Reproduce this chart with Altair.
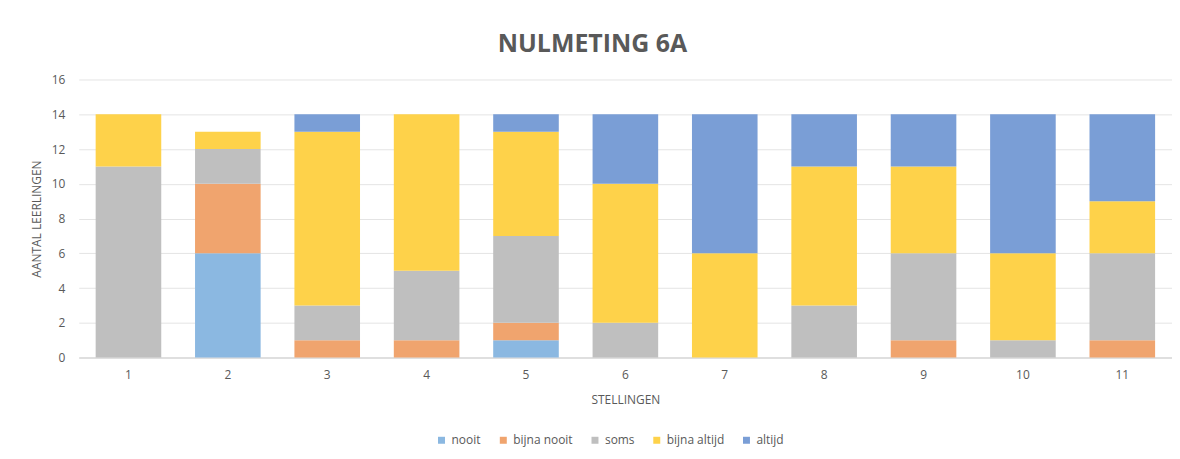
import altair as alt
import pandas as pd

stellingen = ["1", "2", "3", "4", "5", "6", "7", "8", "9", "10", "11"]
series_names = ["nooit", "bijna nooit", "soms", "bijna altijd", "altijd"]
nooit        = [0, 6, 0, 0, 1, 0, 0, 0, 0, 0, 0]
bijna_nooit  = [0, 4, 1, 1, 1, 0, 0, 0, 1, 0, 1]
soms         = [11, 2, 2, 4, 5, 2, 0, 3, 5, 1, 5]
bijna_altijd = [3, 1, 10, 9, 6, 8, 6, 8, 5, 5, 3]
altijd       = [0, 0, 1, 0, 1, 4, 8, 3, 3, 8, 5]
colors = ["#8BB8E1", "#F0A46E", "#BFBFBF", "#FED24A", "#7A9ED6"]

rows = []
for si, (name, vals) in enumerate(zip(series_names, [nooit, bijna_nooit, soms, bijna_altijd, altijd])):
    for cat, v in zip(stellingen, vals):
        rows.append({"stelling": cat, "reeks": name, "aantal": v, "volgorde": si})
df = pd.DataFrame(rows)

FONT = "Open Sans"
GRAY = "#595959"

chart = alt.Chart(df).mark_bar().encode(
    x=alt.X("stelling:N", sort=stellingen,
            scale=alt.Scale(paddingInner=0.34, paddingOuter=0.17),
            axis=alt.Axis(title="STELLINGEN", labelAngle=0, ticks=False,
                          domainColor="#D9D9D9", domainWidth=1.5,
                          labelPadding=12, titlePadding=14)),
    y=alt.Y("aantal:Q", stack="zero",
            scale=alt.Scale(domain=[0, 16]),
            axis=alt.Axis(title="AANTAL LEERLINGEN", values=list(range(0, 17, 2)),
                          domain=False, ticks=False, gridColor="#E4E4E4",
                          labelPadding=14, titlePadding=8)),
    color=alt.Color("reeks:N",
                    scale=alt.Scale(domain=series_names, range=colors),
                    legend=alt.Legend(title=None, orient="none", direction="horizontal",
                                      legendX=358, legendY=356, symbolType="square",
                                      symbolSize=49, symbolStrokeWidth=0,
                                      labelFontSize=12, labelColor=GRAY, labelFont=FONT,
                                      columnPadding=16, labelOffset=4)),
    order=alt.Order("volgorde:Q", sort="ascending"),
).properties(
    width=1097, height=279,
    title=alt.TitleParams("NULMETING 6A", fontSize=25, font=FONT, fontWeight="bold",
                          color=GRAY, anchor="middle", offset=17, dx=-33),
    autosize=alt.AutoSizeParams(type="none"),
    padding={"left": 71, "top": 71, "right": 0, "bottom": 90},
).configure_axis(
    labelFont=FONT, titleFont=FONT, labelFontSize=12, titleFontSize=12,
    labelColor=GRAY, titleColor=GRAY, titleFontWeight="normal",
).configure_view(stroke=None)

chart.save("out.html", embed_options={"renderer": "svg", "actions": False})
